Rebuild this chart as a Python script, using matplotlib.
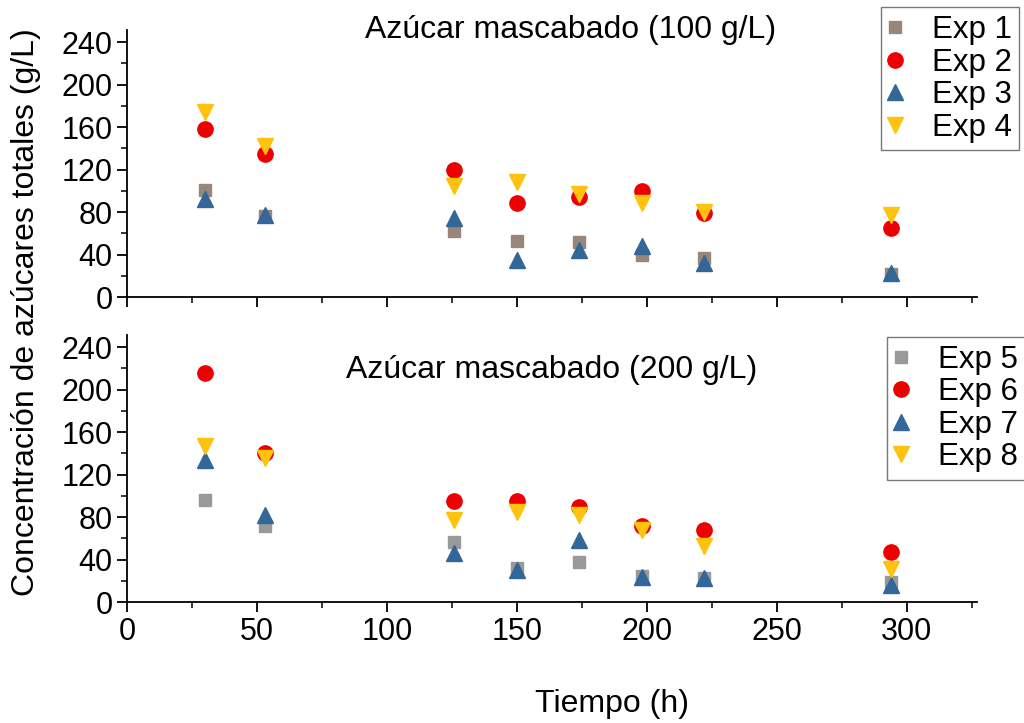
import numpy as np
import matplotlib.pyplot as plt

plt.rcParams['font.family'] = ['Liberation Sans', 'DejaVu Sans']

tiempo = [30, 53, 126, 150, 174, 198, 222, 294]

# Azucar mascabado 100 g/L
exp1 = [101, 76, 62, 53, 52, 40, 37, 22]
exp2 = [158, 135, 120, 89, 94, 100, 79, 65]
exp3 = [92, 77, 74, 35, 44, 48, 32, 23]
exp4 = [174, 142, 105, 108, 97, 89, 80, 77]

# Azucar mascabado 200 g/L
exp5 = [96, 72, 57, 32, 38, 25, 23, 19]
exp6 = [216, 140, 95, 95, 90, 72, 68, 47]
exp7 = [134, 82, 46, 30, 59, 24, 23, 16]
exp8 = [147, 136, 77, 85, 82, 68, 53, 31]

titulos = ["Azúcar mascabado (100 g/L)", "Azúcar mascabado (200 g/L)"]

c_taupe = '#978679'
c_gris = '#999999'
c_rojo = '#ee0000'
c_azul = '#336699'
c_amarillo = '#ffc20e'

fig = plt.figure(figsize=(10.24, 7.23), dpi=100)
ax1 = fig.add_axes([0.124, 0.589, 0.830, 0.369])
ax2 = fig.add_axes([0.124, 0.167, 0.830, 0.369])


def panel(ax, series, colors, labels, titulo, tx, ty, legpos):
	markers = ['s', 'o', '^', 'v']
	sizes = [9, 11, 12, 12]
	for y, c, m, ms, lab in zip(series, colors, markers, sizes, labels):
		ax.plot(tiempo, y, linestyle='none', marker=m, color=c, ms=ms, label=lab)
	ax.set_xlim(0, 327)
	ax.set_ylim(0, 251)
	ax.set_xticks(np.arange(0, 301, 50))
	ax.set_xticks(np.arange(25, 326, 25), minor=True)
	ax.set_yticks(np.arange(0, 241, 40))
	ax.set_yticks(np.arange(20, 241, 40), minor=True)
	ax.spines['top'].set_visible(False)
	ax.spines['right'].set_visible(False)
	for s in ['left', 'bottom']:
		ax.spines[s].set_linewidth(1.3)
	ax.tick_params(which='major', length=7.5, width=1.3, labelsize=22, pad=3)
	ax.tick_params(which='minor', length=4, width=1.1)
	ax.text(tx, ty, titulo, transform=fig.transFigure, fontsize=23, ha='center', va='baseline')
	leg = ax.legend(loc='upper left', bbox_to_anchor=legpos, bbox_transform=fig.transFigure,
		fontsize=22.5, frameon=True, fancybox=False, handletextpad=0.98, labelspacing=0.08,
		borderpad=0.25, handlelength=0.4, borderaxespad=0)
	leg.get_frame().set_edgecolor('#555555')
	leg.get_frame().set_linewidth(1.0)


panel(ax1, [exp1, exp2, exp3, exp4], [c_taupe, c_rojo, c_azul, c_amarillo],
	['Exp 1', 'Exp 2', 'Exp 3', 'Exp 4'], titulos[0], 0.557, 0.9474, (0.860, 0.990))
panel(ax2, [exp5, exp6, exp7, exp8], [c_gris, c_rojo, c_azul, c_amarillo],
	['Exp 5', 'Exp 6', 'Exp 7', 'Exp 8'], titulos[1], 0.539, 0.477, (0.866, 0.534))

ax1.tick_params(axis='x', labelbottom=False)
fig.text(0.598, 0.015, "Tiempo (h)", fontsize=23, ha='center', va='baseline')
fig.text(0.025, 0.568, "Concentración de azúcares totales (g/L)", rotation=90,
	fontsize=23, ha='center', va='center')

fig.savefig('out.png', dpi=100)
